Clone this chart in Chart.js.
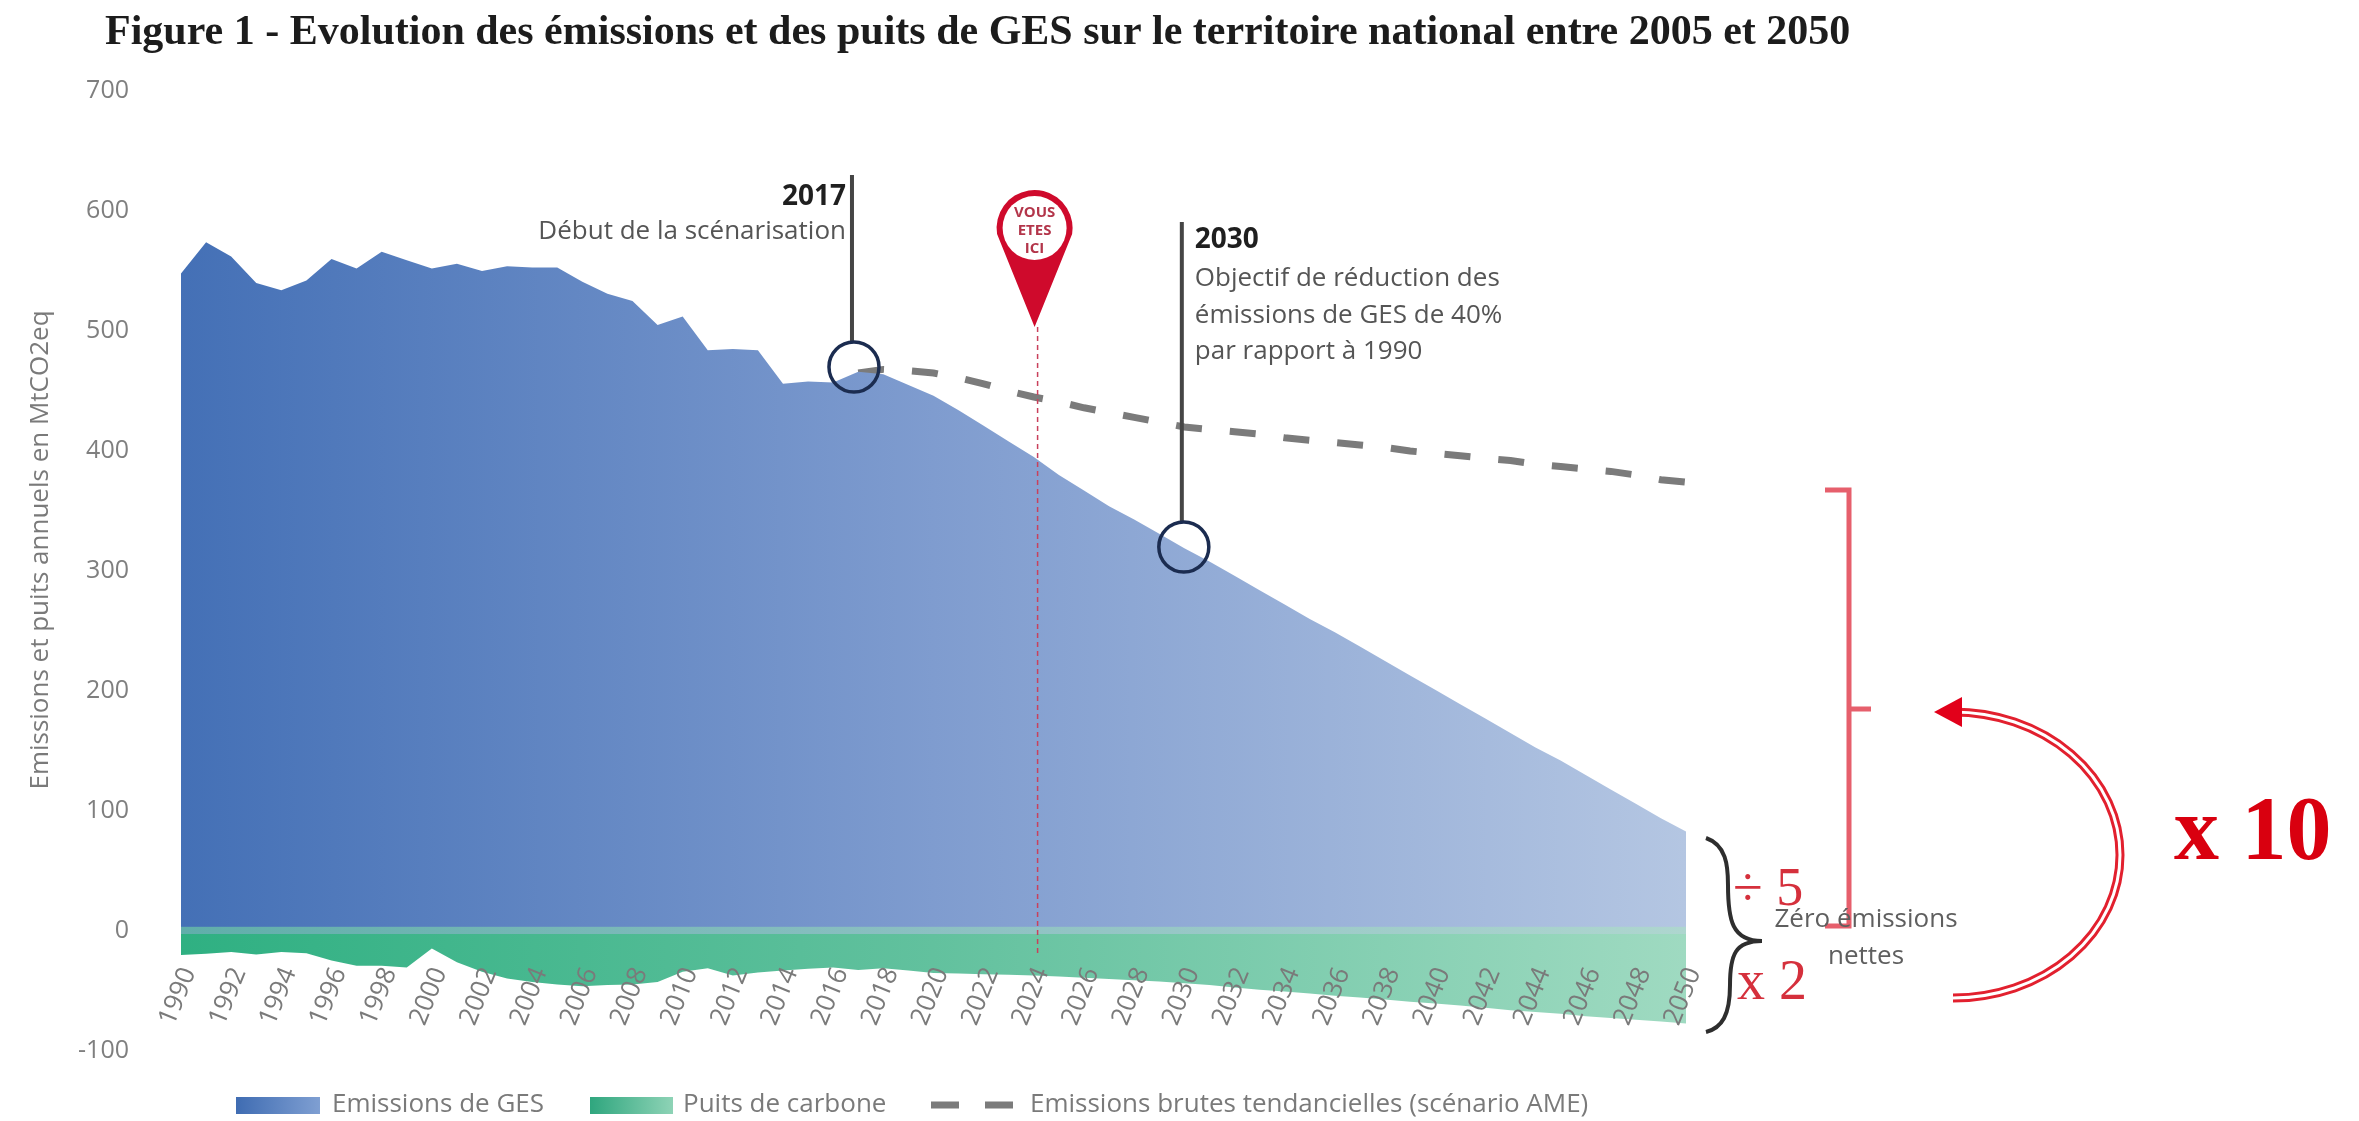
<!DOCTYPE html>
<html lang="fr">
<head>
<meta charset="utf-8">
<title>Evolution des émissions et des puits de GES</title>
<script src="https://cdn.jsdelivr.net/npm/chart.js@4/dist/chart.umd.min.js"></script>
<style>
  html, body { margin: 0; padding: 0; background: #fff; }
  #wrap { width: 2359px; height: 1121px; }
</style>
</head>
<body>
<div id="wrap"><canvas id="chart" width="2359" height="1121"></canvas></div>
<script>
const years = [
  1990, 1991, 1992, 1993, 1994, 1995, 1996, 1997, 1998, 1999,
  2000, 2001, 2002, 2003, 2004, 2005, 2006, 2007, 2008, 2009,
  2010, 2011, 2012, 2013, 2014, 2015, 2016, 2017, 2018, 2019,
  2020, 2021, 2022, 2023, 2024, 2025, 2026, 2027, 2028, 2029,
  2030, 2031, 2032, 2033, 2034, 2035, 2036, 2037, 2038, 2039,
  2040, 2041, 2042, 2043, 2044, 2045, 2046, 2047, 2048, 2049, 2050,
];

const emissions = [
  548, 574, 562, 540, 534, 542, 560, 552, 566, 559,
  552, 556, 550, 554, 553, 553, 541, 531, 525, 505,
  512, 484, 485, 484, 456, 458, 457, 466, 464, 455,
  446, 434, 421, 408, 395, 380, 367, 354, 343, 331,
  319, 308, 296, 284, 272, 260, 249, 237, 225, 213,
  201, 189, 177, 165, 153, 142, 130, 118, 106, 94, 83,
];

const sinks = [
  -20, -19, -17.5, -19.5, -17.5, -18.5, -24.5, -29, -29, -30.5,
  -14.5, -26, -34, -39.5, -42.5, -44.5, -46, -45, -44.5, -42.5,
  -34, -31, -37, -34.5, -33, -31.5, -30.5, -32.5, -31, -33,
  -35, -35.5, -36, -36.5, -37, -38, -39, -40, -41, -42,
  -43.5, -45, -47, -49, -50.5, -52, -54, -55.5, -57, -59,
  -60.5, -62, -64, -66, -67.5, -69, -71, -72.5, -74, -75.5, -77,
];

const trend = [
  null, null, null, null, null, null, null, null, null, null,
  null, null, null, null, null, null, null, null, null, null,
  null, null, null, null, null, null, null, 465, 468, 467,
  465, 461, 456, 450, 445, 441, 436, 432, 428, 424,
  420, 418, 416, 414, 411, 409, 407, 405, 403, 400,
  398, 396, 394, 392, 389, 387, 385, 383, 380, 376, 374,
];

const seriesNames = [
  "Emissions de GES",
  "Puits de carbone",
  "Emissions brutes tendancielles (scénario AME)",
];

const SANS = '"Open Sans", sans-serif';
const SERIF = '"Liberation Serif", serif';

// Left to right fade used by both areas and their legend swatches
function fade(ctx, x0, x1, stops) {
  const g = ctx.createLinearGradient(x0, 0, x1, 0);
  stops.forEach((c, i) => g.addColorStop(i / (stops.length - 1), c));
  return g;
}
const blueStops = ["#4470b6", "#7f9ccf", "#b4c6e2"];
const greenStops = ["#2fb082", "#62c19e", "#9fdac1"];
const seamStops = ["#60aeaa", "#8cc0c2", "#aed6cf"];

function areaFill(stops) {
  return (context) => {
    const area = context.chart.chartArea;
    if (!area) return stops[0];
    return fade(context.chart.ctx, area.left, area.right, stops);
  };
}

function text(ctx, str, x, y, font, color, align) {
  ctx.font = font;
  ctx.fillStyle = color;
  ctx.textAlign = align || "left";
  ctx.textBaseline = "middle";
  ctx.fillText(str, x, y);
}

// Pale seam along the zero line
const zeroBand = {
  id: "zeroBand",
  afterDatasetsDraw(chart) {
    const { ctx, chartArea, scales } = chart;
    const top = scales.y.getPixelForValue(3.5);
    const bottom = scales.y.getPixelForValue(-2.5);
    ctx.save();
    ctx.fillStyle = fade(ctx, chartArea.left, chartArea.right, seamStops);
    ctx.fillRect(chartArea.left, top, chartArea.right - chartArea.left, bottom - top);
    ctx.restore();
  },
};

// Callouts, title, legend and the red additions on the right
const overlay = {
  id: "overlay",
  afterDraw(chart) {
    const { ctx, scales, data } = chart;
    const xAt = (year) => scales.x.getPixelForValue(year - 1990);
    const yAt = (v) => scales.y.getPixelForValue(v);
    ctx.save();

    text(ctx, "Figure 1 - Evolution des émissions et des puits de GES sur le territoire national entre 2005 et 2050",
      105, 33, "bold 42px " + SERIF, "#1c1c1c");

    ctx.translate(41, 550);
    ctx.rotate(-Math.PI / 2);
    text(ctx, "Emissions et puits annuels en MtCO2eq", 0, 0, "26px " + SANS, "#7a7a7a", "center");
    ctx.setTransform(1, 0, 0, 1, 0, 0);

    // 2024 marker
    const pinX = xAt(2024.15);
    ctx.strokeStyle = "#c9405c";
    ctx.lineWidth = 1.5;
    ctx.setLineDash([5, 4]);
    ctx.beginPath();
    ctx.moveTo(pinX, 327);
    ctx.lineTo(pinX, yAt(-20));
    ctx.stroke();
    ctx.setLineDash([]);

    ctx.fillStyle = "#cf0a2c";
    ctx.beginPath();
    ctx.arc(pinX - 3, 228, 38, Math.PI * 0.95, Math.PI * 0.05);
    ctx.lineTo(pinX - 3, 327);
    ctx.closePath();
    ctx.fill();
    ctx.fillStyle = "#fff";
    ctx.beginPath();
    ctx.arc(pinX - 3, 228, 32, 0, Math.PI * 2);
    ctx.fill();
    ["VOUS", "ETES", "ICI"].forEach((w, i) => {
      text(ctx, w, pinX - 3, 213 + i * 18, "bold 15px " + SANS, "#b3354a", "center");
    });

    // Callout stems and circles
    [
      { year: 2016.75, top: 175, cy: 367 },
      { year: 2029.9, top: 222, cy: 547 },
    ].forEach((c) => {
      const x = xAt(c.year);
      ctx.strokeStyle = "#454545";
      ctx.lineWidth = 4;
      ctx.beginPath();
      ctx.moveTo(x, c.top);
      ctx.lineTo(x, c.cy - 25);
      ctx.stroke();
      ctx.strokeStyle = "#1b2c50";
      ctx.lineWidth = 3.5;
      ctx.beginPath();
      ctx.arc(x + 2, c.cy, 25, 0, Math.PI * 2);
      ctx.stroke();
    });

    const x2017 = xAt(2016.75) - 6;
    text(ctx, "2017", x2017, 197, "bold 28px " + SANS, "#1f1f1f", "right");
    text(ctx, "Début de la scénarisation", x2017, 232, "26px " + SANS, "#555", "right");
    const x2030 = xAt(2029.9) + 13;
    text(ctx, "2030", x2030, 240, "bold 28px " + SANS, "#1f1f1f");
    text(ctx, "Objectif de réduction des", x2030, 279, "26px " + SANS, "#555");
    text(ctx, "émissions de GES de 40%", x2030, 316, "26px " + SANS, "#555");
    text(ctx, "par rapport à 1990", x2030, 352, "26px " + SANS, "#555");

    // Red bracket
    ctx.strokeStyle = "#e65f6c";
    ctx.lineWidth = 5;
    ctx.beginPath();
    ctx.moveTo(1825, 490);
    ctx.lineTo(1849, 490);
    ctx.lineTo(1849, 926);
    ctx.lineTo(1825, 926);
    ctx.moveTo(1849, 709);
    ctx.lineTo(1871, 709);
    ctx.stroke();

    // Black brace
    ctx.strokeStyle = "#2e2e2e";
    ctx.lineWidth = 4;
    ctx.beginPath();
    ctx.moveTo(1706, 838);
    ctx.bezierCurveTo(1726, 845, 1728, 865, 1728, 885);
    ctx.bezierCurveTo(1728, 920, 1732, 941, 1762, 941);
    ctx.moveTo(1762, 941);
    ctx.bezierCurveTo(1735, 941, 1730, 955, 1730, 985);
    ctx.bezierCurveTo(1730, 1015, 1722, 1028, 1706, 1032);
    ctx.stroke();

    text(ctx, "÷ 5", 1733, 891, "54px " + SERIF, "#d5303c");
    text(ctx, "Zéro émissions", 1866, 920, "26px " + SANS, "#5f5f5f", "center");
    text(ctx, "nettes", 1866, 957, "26px " + SANS, "#5f5f5f", "center");
    text(ctx, "x 2", 1737, 984, "56px " + SERIF, "#d5303c");
    text(ctx, "x 10", 2174, 836, "bold 90px " + SERIF, "#d9000f");

    // Double arc with arrow
    const arc = () => {
      ctx.beginPath();
      ctx.ellipse(1953, 855, 167, 143, 0, -Math.PI / 2, Math.PI / 2);
      ctx.stroke();
    };
    ctx.strokeStyle = "#e2202e";
    ctx.lineWidth = 9;
    arc();
    ctx.strokeStyle = "#fff";
    ctx.lineWidth = 3;
    arc();
    ctx.fillStyle = "#e2001a";
    ctx.beginPath();
    ctx.moveTo(1934, 712);
    ctx.lineTo(1962, 697);
    ctx.lineTo(1962, 727);
    ctx.closePath();
    ctx.fill();

    // Legend
    const legendFont = "26px " + SANS;
    ctx.fillStyle = fade(ctx, 236, 320, ["#3f6cb2", "#7f9fd2"]);
    ctx.fillRect(236, 1097, 84, 17);
    text(ctx, data.datasets[0].label, 332, 1105, legendFont, "#7a7a7a");
    ctx.fillStyle = fade(ctx, 590, 673, ["#2fa67e", "#8ed3b6"]);
    ctx.fillRect(590, 1097, 83, 17);
    text(ctx, data.datasets[1].label, 683, 1105, legendFont, "#7a7a7a");
    ctx.strokeStyle = "#7b7b7b";
    ctx.lineWidth = 7;
    ctx.setLineDash([28, 26]);
    ctx.beginPath();
    ctx.moveTo(931, 1105);
    ctx.lineTo(1015, 1105);
    ctx.stroke();
    ctx.setLineDash([]);
    text(ctx, data.datasets[2].label, 1030, 1105, legendFont, "#7a7a7a");

    ctx.restore();
  },
};

new Chart(document.getElementById("chart"), {
  type: "line",
  data: {
    labels: years,
    datasets: [
      {
        label: seriesNames[0],
        data: emissions,
        fill: "origin",
        backgroundColor: areaFill(blueStops),
        borderWidth: 0,
        pointRadius: 0,
        tension: 0,
      },
      {
        label: seriesNames[1],
        data: sinks,
        fill: "origin",
        backgroundColor: areaFill(greenStops),
        borderWidth: 0,
        pointRadius: 0,
        tension: 0,
      },
      {
        label: seriesNames[2],
        data: trend,
        fill: false,
        borderColor: "#7b7b7b",
        borderWidth: 7,
        borderDash: [26, 28],
        pointRadius: 0,
        tension: 0,
        spanGaps: false,
      },
    ],
  },
  options: {
    responsive: false,
    animation: false,
    layout: { padding: { left: 0, top: 91, right: 673, bottom: 70 } },
    plugins: {
      legend: { display: false },
      title: { display: false },
      tooltip: { enabled: false },
    },
    scales: {
      x: {
        type: "category",
        position: { y: 0 },
        grid: { display: false },
        border: { display: false },
        ticks: {
          z: 1,
          autoSkip: false,
          minRotation: 68,
          maxRotation: 68,
          padding: 24,
          labelOffset: 8,
          color: "#7a7a7a",
          font: { family: SANS, size: 26 },
          callback: function (value, index) {
            return index % 2 === 0 ? this.getLabelForValue(value) : null;
          },
        },
      },
      y: {
        min: -100,
        max: 700,
        grid: { display: false },
        border: { display: false },
        afterFit(scale) {
          scale.width = 181;
        },
        ticks: {
          stepSize: 100,
          padding: 44,
          color: "#7f7f7f",
          font: { family: SANS, size: 25 },
        },
      },
    },
  },
  plugins: [zeroBand, overlay],
});
</script>
</body>
</html>
